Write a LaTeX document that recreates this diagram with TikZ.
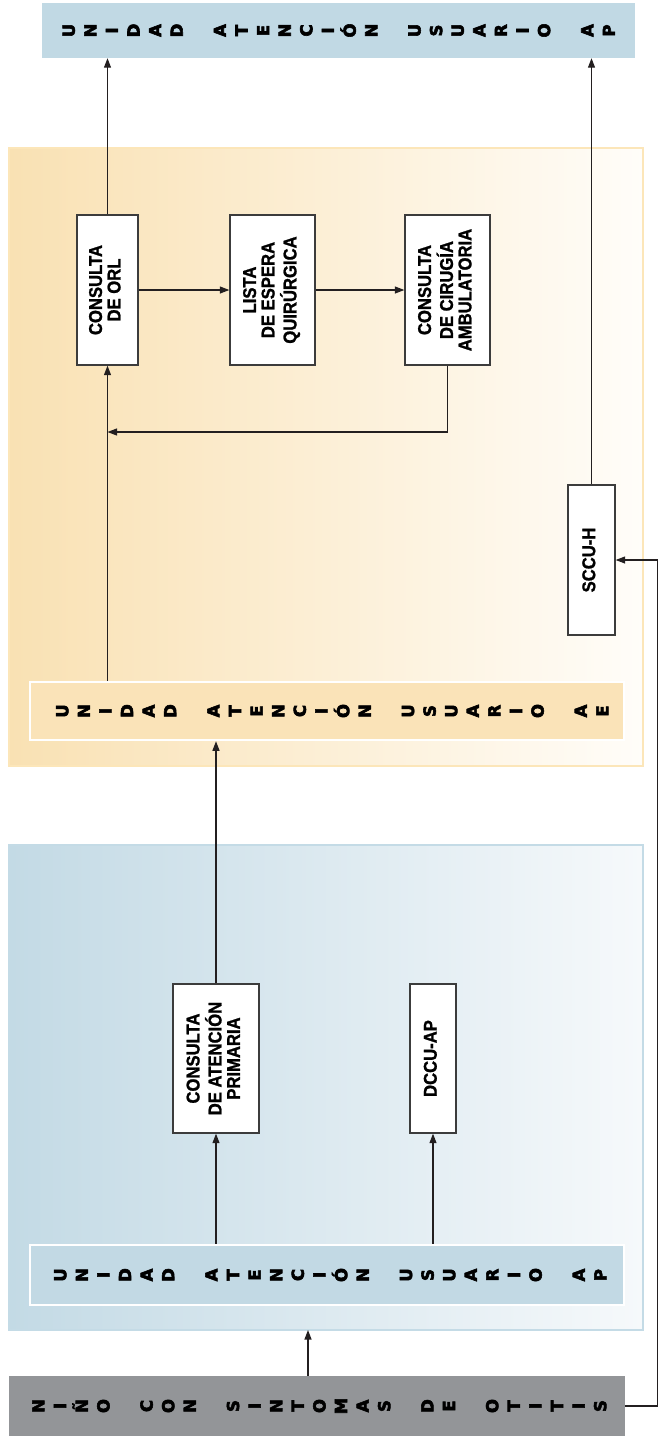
\documentclass[tikz,border=0pt]{standalone}
\usepackage{fontspec}
\setmainfont{Liberation Sans}
\newfontfamily\boxfont{Liberation Sans}[FakeStretch=0.9, BoldFeatures={FakeBold=1.2}]
\newfontfamily\banfont{DejaVu Sans}[BoldFeatures={FakeBold=3.5}]
\usetikzlibrary{arrows.meta}
\definecolor{linec}{HTML}{231F20}
\definecolor{boxc}{HTML}{3C3C3C}
\definecolor{orangeL}{HTML}{F9E1B3}
\definecolor{orangeR}{HTML}{FFFDF9}
\definecolor{orangeB}{HTML}{FCE6B9}
\definecolor{uaefill}{HTML}{FAE3B8}
\definecolor{blueL}{HTML}{C3DAE5}
\definecolor{blueR}{HTML}{F6F9FB}
\definecolor{blueB}{HTML}{C4DBE6}
\definecolor{topfill}{HTML}{C1D9E4}
\definecolor{uapfill}{HTML}{C2D9E4}
\definecolor{ninofill}{HTML}{939598}
\newcommand\vstack[1]{\rotatebox{90}{\banfont\bfseries\fontsize{16.5}{21.6}\selectfont\begin{tabular}{@{}c@{}}#1\end{tabular}}}
\newcommand\rtext[1]{\rotatebox{90}{\boxfont\bfseries\fontsize{18.5}{18.5}\selectfont\begin{tabular}{@{}c@{}}#1\end{tabular}}}
\begin{document}
\begin{tikzpicture}[x=1pt,y=-1pt,
  arr/.style={draw=linec, line width=1.1pt, -{Triangle[length=9.5pt,width=7pt]}},
  box/.style={draw=boxc, line width=1.3pt, fill=white, inner sep=0pt},
  panel/.style={inner sep=0pt, line width=2.5pt},
  banner/.style={inner sep=0pt}
]
\useasboundingbox (0,0) rectangle (671,1436);
% panels
\node[panel, draw=orangeB, left color=orangeL, right color=orangeR, minimum width=634pt, minimum height=618pt] (op) at (326,457) {};
\node[panel, draw=blueB, left color=blueL, right color=blueR, minimum width=634pt, minimum height=485pt] (bp) at (326,1087.5) {};
% banners
\node[banner, fill=topfill, minimum width=593pt, minimum height=55pt] (top) at (338.5,30.5)
  {\hspace*{4pt}\vstack{U\\N\\I\\D\\A\\D\\\\A\\T\\E\\N\\C\\I\\Ó\\N\\\\U\\S\\U\\A\\R\\I\\O\\\\A\\P}};
\node[banner, fill=uaefill, draw=white, line width=2.5pt, minimum width=594pt, minimum height=58pt] (uae) at (327,711)
  {\hspace*{14pt}\vstack{U\\N\\I\\D\\A\\D\\\\A\\T\\E\\N\\C\\I\\Ó\\N\\\\U\\S\\U\\A\\R\\I\\O\\\\A\\E}};
\node[banner, fill=uapfill, draw=white, line width=2.5pt, minimum width=594pt, minimum height=60pt] (uap) at (327,1275)
  {\hspace*{10pt}\vstack{U\\N\\I\\D\\A\\D\\\\A\\T\\E\\N\\C\\I\\Ó\\N\\\\U\\S\\U\\A\\R\\I\\O\\\\A\\P}};
\node[banner, fill=ninofill, minimum width=616pt, minimum height=60pt] (nino) at (317,1406)
  {\hspace*{8pt}\vstack{N\\I\\Ñ\\O\\\\C\\O\\N\\\\S\\I\\N\\T\\O\\M\\A\\S\\\\D\\E\\\\O\\T\\I\\T\\I\\S}};
% boxes
\node[box, minimum width=61pt, minimum height=150pt] (orl) at (107.5,290) {\rtext{CONSULTA\\DE ORL}};
\node[box, minimum width=85pt, minimum height=150pt] (lista) at (272.5,290) {\rtext{LISTA\\DE ESPERA\\QUIRÚRGICA}};
\node[box, minimum width=85pt, minimum height=150pt] (cir) at (447.5,290) {\rtext{CONSULTA\\DE CIRUGÍA\\AMBULATORIA}};
\node[box, minimum width=47pt, minimum height=150pt] (sccu) at (591.5,560) {\rtext{SCCU-H}};
\node[box, minimum width=86pt, minimum height=149pt] (cap) at (216,1058.5) {\rtext{CONSULTA\\DE ATENCIÓN\\PRIMARIA}};
\node[box, minimum width=46pt, minimum height=149pt] (dccu) at (433,1058.5) {\rtext{DCCU-AP}};
% connectors
\coordinate (fb) at (107.5,432);
\coordinate (n1) at (308,1330);
\draw[arr] (orl.north) -- (orl.north |- top.south);
\draw[arr] (sccu.north) -- (sccu.north |- top.south);
\draw[arr] (orl.east) -- (lista.west);
\draw[arr] (lista.east) -- (cir.west);
\draw[arr] (cir.south) |- (fb);
\draw[arr] (uae.north -| orl.south) -- (orl.south);
\draw[arr] (cap.north) -- (cap.north |- uae.south);
\draw[arr] (uap.north -| cap.south) -- (cap.south);
\draw[arr] (uap.north -| dccu.south) -- (dccu.south);
\draw[arr] (nino.north -| n1) -- (n1);
\draw[arr] (nino.east) -- ++(32,0) |- (sccu.east);
\end{tikzpicture}
\end{document}
